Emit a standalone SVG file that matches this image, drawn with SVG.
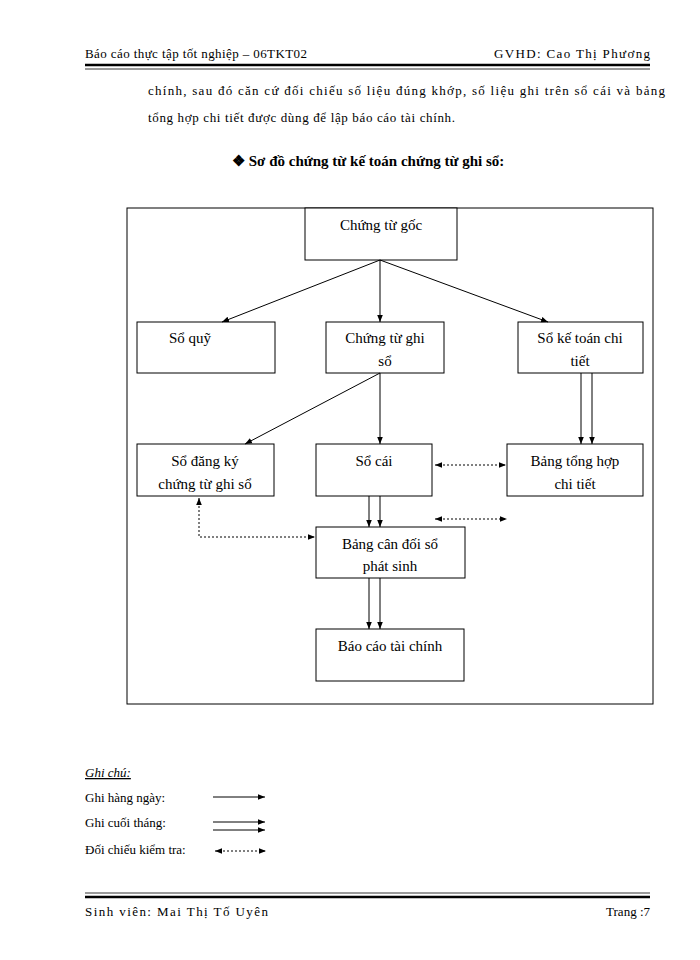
<svg xmlns="http://www.w3.org/2000/svg" width="700" height="960" viewBox="0 0 700 960">
<style>
text{font-family:"Liberation Serif",serif;fill:#000}
.n{font-size:15px;text-anchor:middle}
.b{fill:#fff;stroke:#000;stroke-width:1}
.l{stroke:#000;stroke-width:1;fill:none}
.d{stroke:#000;stroke-width:1;fill:none;stroke-dasharray:2,2}
.s{font-size:13px}
</style>
<defs>
<marker id="a" viewBox="0 0 10 10" refX="10" refY="5" markerWidth="7" markerHeight="7" orient="auto-start-reverse"><path d="M0,1 L10,5 L0,9z" fill="#000"/></marker>
</defs>
<rect width="700" height="960" fill="#fff"/>
<text x="85" y="58" class="s" textLength="222" lengthAdjust="spacing">Báo cáo thực tập tốt nghiệp – 06TKT02</text>
<text x="494" y="58" class="s" textLength="156" lengthAdjust="spacing">GVHD: Cao Thị Phương</text>
<line x1="85" y1="65" x2="650" y2="65" stroke="#000" stroke-width="2.5"/>
<line x1="85" y1="69" x2="650" y2="69" stroke="#000" stroke-width="0.8"/>
<text x="148" y="95" class="s" textLength="517" lengthAdjust="spacing">chính, sau đó căn cứ đối chiếu số liệu đúng khớp, số liệu ghi trên sổ cái và bảng</text>
<text x="148" y="122" class="s" textLength="307" lengthAdjust="spacing">tổng hợp chi tiết được dùng để lập báo cáo tài chính.</text>
<text x="232" y="166" font-size="15" font-weight="bold">❖ Sơ đồ chứng từ kế toán chứng từ ghi sổ:</text>
<rect x="127" y="208" width="526" height="496" class="l"/>
<g id="n1"><rect x="305" y="208" width="152" height="52" class="b"/><text x="381" y="230" class="n">Chứng từ gốc</text></g>
<g id="n2"><rect x="137" y="322" width="138" height="51" class="b"/><text x="190" y="343" class="n">Sổ quỹ</text></g>
<g id="n3"><rect x="326" y="322" width="118" height="51" class="b"/><text x="385" y="343" class="n">Chứng từ ghi</text><text x="385" y="366" class="n">sổ</text></g>
<g id="n4"><rect x="518" y="322" width="125" height="51" class="b"/><text x="580" y="343" class="n">Sổ kế toán chi</text><text x="580" y="366" class="n">tiết</text></g>
<g id="n5"><rect x="137" y="444" width="137" height="52" class="b"/><text x="205" y="466" class="n">Sổ đăng ký</text><text x="205" y="489" class="n">chứng từ ghi sổ</text></g>
<g id="n6"><rect x="316" y="444" width="116" height="52" class="b"/><text x="374" y="466" class="n">Sổ cái</text></g>
<g id="n7"><rect x="507" y="444" width="136" height="52" class="b"/><text x="575" y="466" class="n">Bảng tổng hợp</text><text x="575" y="489" class="n">chi tiết</text></g>
<g id="n8"><rect x="316" y="527" width="149" height="51" class="b"/><text x="390" y="549" class="n">Bảng cân đối sổ</text><text x="390" y="571" class="n">phát sinh</text></g>
<g id="n9"><rect x="316" y="629" width="148" height="52" class="b"/><text x="390" y="651" class="n">Báo cáo tài chính</text></g>
<g id="connectors">
<line x1="380" y1="260" x2="222" y2="322" class="l" marker-end="url(#a)"/>
<line x1="380" y1="260" x2="380" y2="322" class="l" marker-end="url(#a)"/>
<line x1="380" y1="260" x2="548" y2="322" class="l" marker-end="url(#a)"/>
<line x1="380" y1="373" x2="245" y2="444" class="l" marker-end="url(#a)"/>
<line x1="380" y1="373" x2="380" y2="444" class="l" marker-end="url(#a)"/>
<line x1="581" y1="373" x2="581" y2="444" class="l" marker-end="url(#a)"/>
<line x1="592" y1="373" x2="592" y2="444" class="l" marker-end="url(#a)"/>
<line x1="369" y1="496" x2="369" y2="527" class="l" marker-end="url(#a)"/>
<line x1="380" y1="496" x2="380" y2="527" class="l" marker-end="url(#a)"/>
<line x1="369" y1="578" x2="369" y2="629" class="l" marker-end="url(#a)"/>
<line x1="380" y1="578" x2="380" y2="629" class="l" marker-end="url(#a)"/>
<line x1="435" y1="465" x2="506" y2="465" class="d" marker-start="url(#a)" marker-end="url(#a)"/>
<line x1="435" y1="519" x2="507" y2="519" class="d" marker-start="url(#a)" marker-end="url(#a)"/>
<path d="M199,498 V537 H315" class="d" marker-start="url(#a)" marker-end="url(#a)"/>
</g>
<text x="85" y="777" class="s" font-style="italic" text-decoration="underline">Ghi chú:</text>
<text x="85" y="802" class="s">Ghi hàng ngày:</text>
<text x="85" y="827" class="s">Ghi cuối tháng:</text>
<text x="85" y="854" class="s">Đối chiếu kiểm tra:</text>
<line x1="213" y1="797" x2="265" y2="797" class="l" marker-end="url(#a)"/>
<line x1="213" y1="822" x2="265" y2="822" class="l" marker-end="url(#a)"/>
<line x1="213" y1="830" x2="265" y2="830" class="l" marker-end="url(#a)"/>
<line x1="215" y1="851" x2="266" y2="851" class="d" marker-start="url(#a)" marker-end="url(#a)"/>
<line x1="85" y1="893" x2="650" y2="893" stroke="#000" stroke-width="0.8"/>
<line x1="85" y1="897" x2="650" y2="897" stroke="#000" stroke-width="2.5"/>
<text x="85" y="916" class="s" textLength="183" lengthAdjust="spacing">Sinh viên: Mai Thị Tố Uyên</text>
<text x="650" y="916" class="s" text-anchor="end">Trang :7</text>
</svg>
